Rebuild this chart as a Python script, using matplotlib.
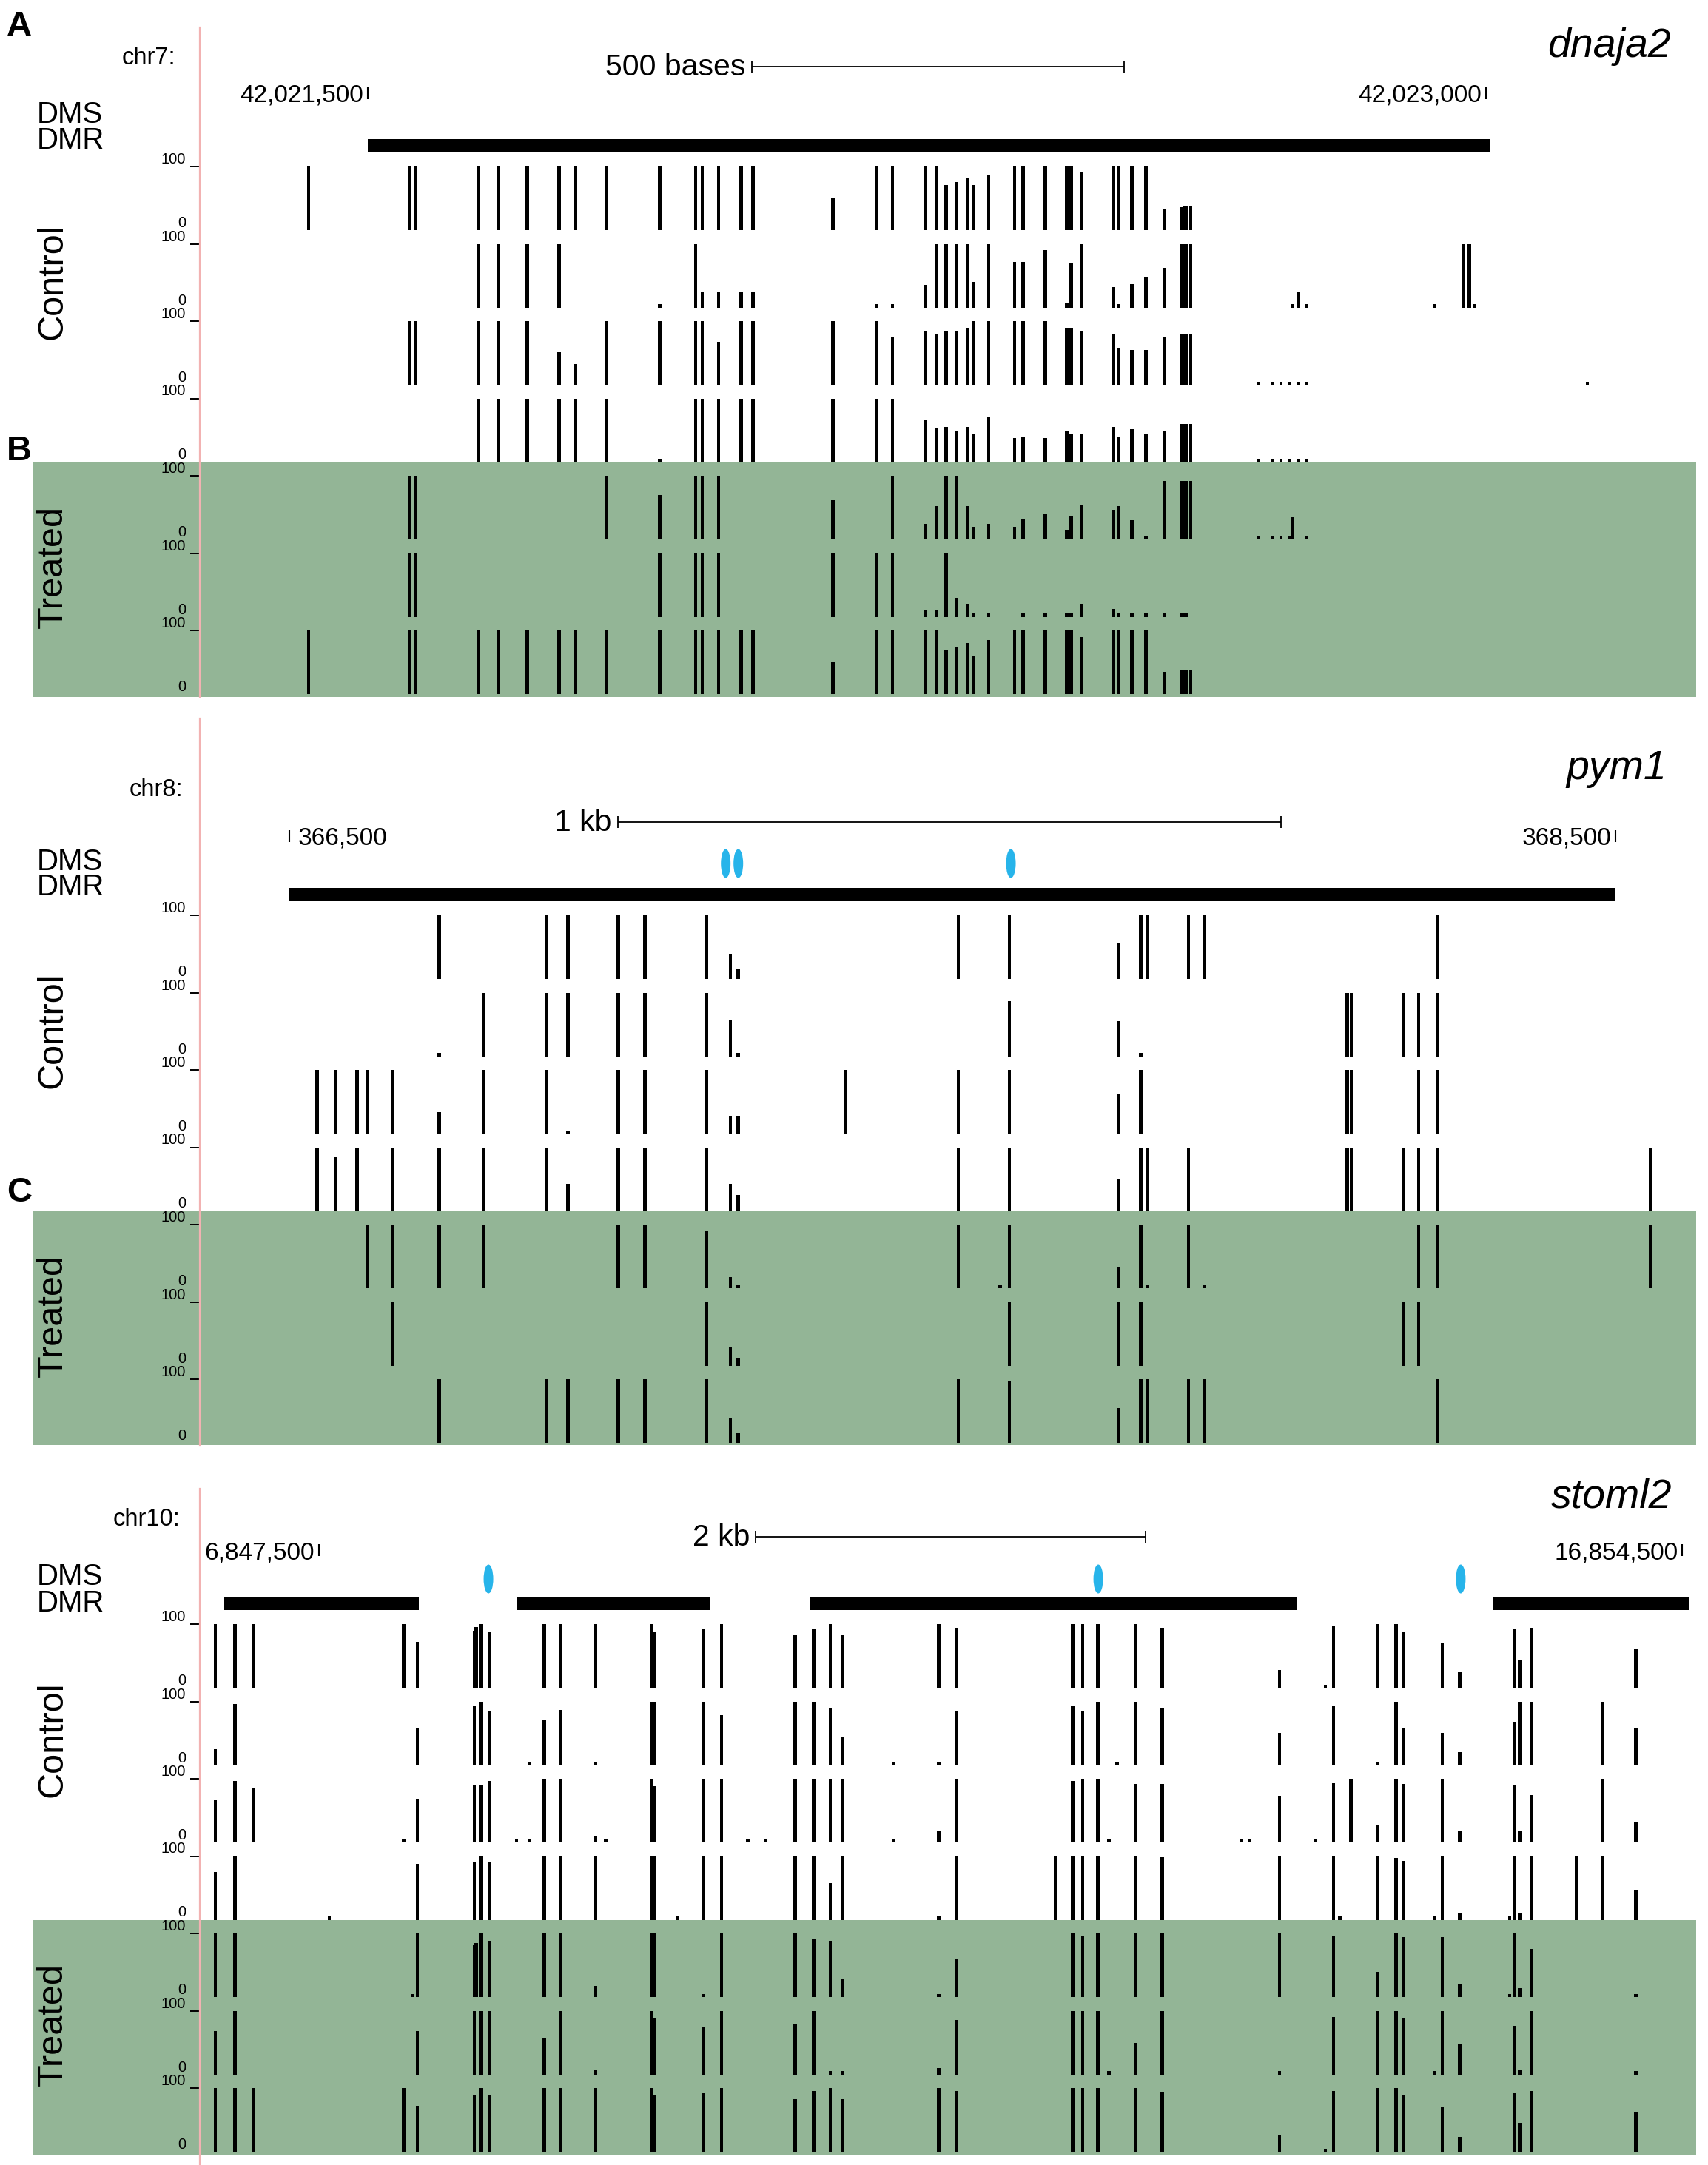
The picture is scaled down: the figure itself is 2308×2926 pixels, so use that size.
import numpy as np
import matplotlib.pyplot as plt
from matplotlib.patches import Rectangle, Ellipse
from matplotlib.lines import Line2D

plt.rcParams['font.family'] = ['Liberation Sans', 'DejaVu Sans']

W, H = 2308, 2926
_ = None  # no reading at this CpG

# ---------------- panel A : dnaja2 (chr7) ----------------
a_base = 42021500
a_sites = [-79, 57, 65, 148, 175, 214, 257, 279, 320, 392,
           440, 449, 471, 501, 517, 624, 683, 704, 748, 763,
           776, 790, 805, 813, 833, 868, 879, 909, 938, 944,
           957, 1001, 1007, 1025, 1044, 1069, 1092, 1095, 1099, 1104,
           1195, 1213, 1225, 1236, 1241, 1249, 1260, 1431, 1470, 1478,
           1485, 1636]
a_ctrl1 = [100, 100, 100, 100, 100, 100, 100, 100, 100, 100,
           100, 100, 100, 100, 100, 50, 100, 100, 100, 100,
           71, 76, 83, 71, 86, 100, 100, 100, 100, 100,
           92, 100, 100, 100, 100, 34, 36, 38, 38, 38,
           _, _, _, _, _, _, _, _, _, _,
           _, _]
a_ctrl2 = [_, _, _, 100, 100, 100, 100, _, _, 5,
           100, 25, 25, 25, 25, _, 5, 5, 35, 100,
           100, 100, 100, 40, 100, 72, 72, 90, 8, 70,
           100, 32, 5, 37, 48, 62, 100, 100, 100, 100,
           _, _, _, _, 5, 25, 5, 5, 100, 100,
           5, _]
a_ctrl3 = [_, 100, 100, 100, 100, 100, 51, 32, 100, 100,
           100, 100, 68, 100, 100, 100, 100, 75, 84, 80,
           85, 85, 90, 100, 100, 100, 100, 100, 90, 90,
           85, 80, 58, 55, 55, 76, 80, 80, 80, 80,
           5, 5, 5, 5, _, 5, 5, _, _, _,
           _, 5]
a_ctrl4 = [_, _, _, 100, 100, 100, 100, 100, 100, 5,
           100, 100, 100, 100, 100, 100, 100, 100, 66, 54,
           55, 50, 55, 45, 71, 38, 40, 38, 50, 45,
           45, 55, 40, 52, 45, 50, 60, 60, 60, 60,
           5, 5, 5, 5, _, 5, 5, _, _, _,
           _, _]
a_trt1 = [_, 100, 100, _, _, _, _, _, 100, 70,
          100, 100, 100, _, _, 62, _, 100, 25, 52,
          100, 100, 52, 20, 25, 20, 32, 40, 15, 37,
          55, 47, 52, 30, 5, 92, 92, 92, 92, 92,
          5, 5, 5, 5, 35, _, 5, _, _, _,
          _, _]
a_trt2 = [_, 100, 100, _, _, _, _, _, _, 100,
          100, 100, 100, _, _, 100, 100, 100, 10, 10,
          100, 30, 20, 5, 5, _, 5, 5, 5, 5,
          20, 12, 5, 5, 5, 5, 5, 5, 5, _,
          _, _, _, _, _, _, _, _, _, _,
          _, _]
a_trt3 = [100, 100, 100, 100, 100, 100, 100, 100, 100, 100,
          100, 100, 100, 100, 100, 50, 100, 100, 100, 100,
          70, 75, 80, 60, 85, 100, 100, 100, 100, 100,
          90, 100, 100, 100, 100, 35, 38, 38, 38, 38,
          _, _, _, _, _, _, _, _, _, _,
          _, _]
a_dmr = [(42021500, 42023005)]
a_dms = []

# ---------------- panel B : pym1 (chr8) ----------------
b_base = 366500
b_sites = [42, 69, 102, 118, 156, 226, 293, 388, 420, 496,
           536, 629, 665, 677, 839, 1009, 1072, 1086, 1250, 1284,
           1294, 1356, 1379, 1595, 1601, 1680, 1703, 1732, 2052]
b_ctrl1 = [_, _, _, _, _, 100, _, 100, 100, 100,
           100, 100, 40, 15, _, 100, _, 100, 56, 100,
           100, 100, 100, _, _, _, _, 100, _]
b_ctrl2 = [_, _, _, _, _, 5, 100, 100, 100, 100,
           100, 100, 56, 5, _, _, _, 87, 55, 5,
           _, _, _, 100, 100, 100, 100, 100, _]
b_ctrl3 = [100, 100, 100, 100, 100, 34, 100, 100, 5, 100,
           100, 100, 28, 28, 100, 100, _, 100, 62, 100,
           _, _, _, 100, 100, _, 100, 100, _]
b_ctrl4 = [100, 84, 100, _, 100, 100, 100, 100, 42, 100,
           100, 100, 43, 25, _, 100, _, 100, 50, 100,
           100, 100, _, 100, 100, 100, 100, 100, 100]
b_trt1 = [_, _, _, 100, 100, 100, 100, _, _, 100,
          100, 90, 18, 5, _, 100, 5, 100, 34, 100,
          5, 100, 5, _, _, _, 100, 100, 100]
b_trt2 = [_, _, _, _, 100, _, _, _, _, _,
          _, 100, 28, 12, _, _, _, 100, 100, 100,
          _, _, _, _, _, 100, 100, _, _]
b_trt3 = [_, _, _, _, _, 100, _, 100, 100, 100,
          100, 100, 40, 15, _, 100, _, 97, 55, 100,
          100, 100, 100, _, _, _, _, 100, _]
b_dmr = [(366500, 368500)]
b_dms = [367158, 367177, 367588]

# ---------------- panel C : stoml2 (chr10) ----------------
c_base = 16847500
c_sites = [-532, -432, -338, 52, 434, 479, 506, 797, 808, 830,
           878, 1015, 1080, 1156, 1240, 1419, 1472, 1707, 1722, 1839,
           1972, 2067, 2201, 2293, 2445, 2539, 2626, 2687, 2950, 3181,
           3274, 3781, 3870, 3921, 3999, 4056, 4097, 4194, 4330, 4736,
           4778, 4931, 5116, 5167, 5209, 5242, 5298, 5435, 5530, 5568,
           5730, 5768, 5857, 6113, 6138, 6164, 6225, 6455, 6590, 6760]
c_ctrl1 = [100, 100, 100, _, 100, _, 72, 90, 95, 100,
           88, _, _, 100, 100, 100, _, 100, 88, _,
           92, 100, _, _, 82, 93, 100, 82, _, 100,
           94, _, 100, 100, 100, _, _, 100, 94, _,
           _, 28, _, 5, 96, _, _, 100, 100, 88,
           _, 71, 24, _, 92, 43, 94, _, _, 62]
c_ctrl2 = [25, 96, _, _, _, _, 59, 93, _, 100,
           85, _, 5, 70, 87, 5, _, 100, 100, _,
           100, 78, _, _, 100, 100, 90, 44, 5, 5,
           84, _, 93, 84, 100, _, 5, 100, 90, _,
           _, 51, _, _, 93, _, _, 5, 100, 57,
           _, 51, 20, _, 68, 100, 100, _, 100, 57]
c_ctrl3 = [66, 97, 85, _, 5, _, 68, 90, _, 91,
           96, 5, 5, 100, 100, 10, 5, 100, 88, _,
           100, 100, 5, 5, 100, 100, 100, 100, 5, 17,
           100, _, 97, 100, 100, 5, _, 92, 92, 5,
           5, 73, 5, _, 93, _, 100, 27, 100, 92,
           _, 100, 18, _, 89, 17, 75, _, 100, 31]
c_ctrl4 = [75, 100, _, 5, _, _, 88, 90, _, 100,
           90, _, _, 100, 100, 100, _, 100, 100, 5,
           100, 100, _, _, 100, 100, 57, 100, _, 5,
           100, 100, 100, 100, 100, _, _, 100, 98, _,
           _, 100, _, _, 100, 5, _, 100, 97, 93,
           5, 100, 11, 5, 100, 11, 100, 100, 100, 47]
c_trt1 = [100, 100, _, _, _, 5, 100, 82, 85, 100,
          88, _, _, 100, 100, 18, _, 100, 100, _,
          5, 100, _, _, 100, 91, 88, 28, _, 5,
          60, _, 100, 95, 100, _, _, 100, 100, _,
          _, 100, _, _, 96, _, _, 39, 100, 94,
          _, 94, 20, 5, 100, 14, 76, _, _, 5]
c_trt2 = [68, 100, _, _, _, _, 68, 100, _, 100,
          100, _, _, 57, 100, 8, _, 100, 88, _,
          75, 100, _, _, 78, 100, 5, 5, _, 10,
          86, _, 100, 100, 100, 5, _, 50, 100, _,
          _, 5, _, _, 90, _, _, 100, 100, 88,
          5, 100, 48, _, 76, 8, 100, _, _, 5]
c_trt3 = [100, 100, 100, _, 100, _, 72, 90, _, 100,
          88, _, _, 100, 100, 100, _, 100, 90, _,
          92, 100, _, _, 83, 95, 100, 82, _, 100,
          95, _, 100, 100, 100, _, _, 100, 94, _,
          _, 27, _, 5, 95, _, _, 100, 100, 88,
          _, 71, 23, _, 92, 45, 95, _, _, 62]
c_dmr = [(16847012, 16848013), (16848518, 16849510),
         (16850019, 16852523), (16853530, 16854533)]
c_dms = [16848370, 16851501, 16853362]

GREEN = '#93b596'
PINK = '#f2b2b2'
BLUE = '#27b4ea'

X0, X1 = 270, 2290          # pixel extent of the tracks
TRACK_H, TRACK_STEP = 86, 104.5

fig = plt.figure(figsize=(W / 100, H / 100), dpi=100)


def frac_rect(x0, y0, w, h):
    return [x0 / W, 1 - (y0 + h) / H, w / W, h / H]


def ftext(x, y, s, **kw):
    fig.text(x / W, 1 - y / H, s, **kw)


panels = [
    dict(letter='A', letter_y=36, pink=(37, 942), top=225, green=(624, 942),
         chrom='chr7:', chr_xy=(237, 75), gene='dnaja2', gene_xy=(2258, 57),
         window=(42021275, 42023280), scale=(42022015, 500, '500 bases', 90),
         coord_y=126, coords=[(42021500, '42,021,500', 'left'), (42023000, '42,023,000', 'left')],
         dms_y=151, dmr_y=186, dot_y=None,
         base=a_base, sites=a_sites,
         tracks=[a_ctrl1, a_ctrl2, a_ctrl3, a_ctrl4, a_trt1, a_trt2, a_trt3],
         dmr=a_dmr, dms=a_dms),
    dict(letter='B', letter_y=610, pink=(971, 1953), top=1237, green=(1636, 1953),
         chrom='chr8:', chr_xy=(247, 1064), gene='pym1', gene_xy=(2252, 1033),
         window=(366365, 368619), scale=(366995, 1000, '1 kb', 1111),
         coord_y=1130, coords=[(366500, '366,500', 'right'), (368500, '368,500', 'left')],
         dms_y=1161, dmr_y=1195, dot_y=1167,
         base=b_base, sites=b_sites,
         tracks=[b_ctrl1, b_ctrl2, b_ctrl3, b_ctrl4, b_trt1, b_trt2, b_trt3],
         dmr=b_dmr, dms=b_dms),
    dict(letter='C', letter_y=1612, pink=(2012, 2926), top=2195, green=(2595, 2912),
         chrom='chr10:', chr_xy=(243, 2050), gene='stoml2', gene_xy=(2259, 2017),
         window=(16846888, 16854563), scale=(16849742, 2000, '2 kb', 2077),
         coord_y=2095, coords=[(16847500, '6,847,500', 'left'), (16854500, '16,854,500', 'left')],
         dms_y=2127, dmr_y=2163, dot_y=2134,
         base=c_base, sites=c_sites,
         tracks=[c_ctrl1, c_ctrl2, c_ctrl3, c_ctrl4, c_trt1, c_trt2, c_trt3],
         dmr=c_dmr, dms=c_dms),
]

for p in panels:
    lo, hi = p['window']
    ppb = (X1 - X0) / (hi - lo)      # pixels per base
    top = p['top']

    # green background of treated tracks
    g0, g1 = p['green']
    fig.add_artist(Rectangle((45 / W, 1 - g1 / H), (2292 - 45) / W, (g1 - g0) / H,
                             transform=fig.transFigure, color=GREEN, zorder=-1, lw=0))
    # pink left line
    p0, p1 = p['pink']
    fig.add_artist(Line2D([X0 / W, X0 / W], [1 - p0 / H, 1 - p1 / H],
                          transform=fig.transFigure, color=PINK, lw=1.6, zorder=10))

    # header: scale bar, coordinates, DMR / DMS
    ax = fig.add_axes(frac_rect(X0, p0, X1 - X0, top - p0))
    ax.set_xlim(lo, hi)
    ax.set_ylim(top, p0)
    ax.axis('off')

    s0, slen, slab, sy = p['scale']
    ax.hlines(sy, s0, s0 + slen, color='black', lw=1.3)
    ax.vlines([s0, s0 + slen], sy - 8, sy + 8, color='black', lw=1.3)
    ax.text(s0 - 8 / ppb, sy - 3, slab, ha='right', va='center_baseline', fontsize=29.5)

    cy = p['coord_y']
    for pos, lab, side in p['coords']:
        ax.vlines(pos, cy - 8, cy + 8, color='black', lw=1.5)
        if side == 'left':
            ax.text(pos - 6 / ppb, cy, lab, ha='right', va='center_baseline', fontsize=24)
        else:
            ax.text(pos + 12 / ppb, cy, lab, ha='left', va='center_baseline', fontsize=24)

    for s, e in p['dmr']:
        ax.add_patch(Rectangle((s, top - 37), e - s, 18, color='black', lw=0))
    for pos in p['dms']:
        ax.add_patch(Ellipse((pos, p['dot_y']), 13 / ppb, 39, color=BLUE, lw=0))

    # labels left of the browser and gene name
    ftext(26, p['letter_y'], p['letter'], fontsize=34, fontweight='bold',
          ha='center', va='center')
    ftext(p['chr_xy'][0], p['chr_xy'][1], p['chrom'], fontsize=23.5,
          ha='right', va='center_baseline')
    ftext(p['gene_xy'][0], p['gene_xy'][1], p['gene'], fontsize=40, style='italic',
          ha='right', va='center_baseline')
    ftext(50, p['dms_y'], 'DMS', fontsize=29, ha='left', va='center_baseline')
    ftext(50, p['dmr_y'], 'DMR', fontsize=29, ha='left', va='center_baseline')
    ftext(71, top + 156, 'Control', fontsize=35, rotation=90, ha='center', va='center')
    ftext(71, top + 541, 'Treated', fontsize=35, rotation=90, ha='center', va='center')

    # methylation tracks
    pos = p['base'] + np.array(p['sites'])
    for i, vals in enumerate(p['tracks']):
        v = np.array(vals, dtype=float)
        m = ~np.isnan(v)
        tax = fig.add_axes(frac_rect(X0, top + i * TRACK_STEP, X1 - X0, TRACK_H))
        tax.set_facecolor('none')
        tax.set_xlim(lo, hi)
        tax.set_ylim(0, 100)
        tax.bar(pos[m], v[m], width=4.5 / ppb, color='black', lw=0)
        for sp in tax.spines.values():
            sp.set_visible(False)
        tax.set_xticks([])
        tax.yaxis.remove_overlapping_locs = False
        tax.set_yticks([0, 100], ['0', '100'])
        tax.set_yticks([100], minor=True)
        tax.tick_params(axis='y', which='major', length=0, pad=13.5, labelsize=14.5)
        tax.tick_params(axis='y', which='minor', length=9.5, width=1.4)
        for lab in tax.get_yticklabels():
            lab.set_va('bottom')

fig.savefig('out.png', dpi=100)
